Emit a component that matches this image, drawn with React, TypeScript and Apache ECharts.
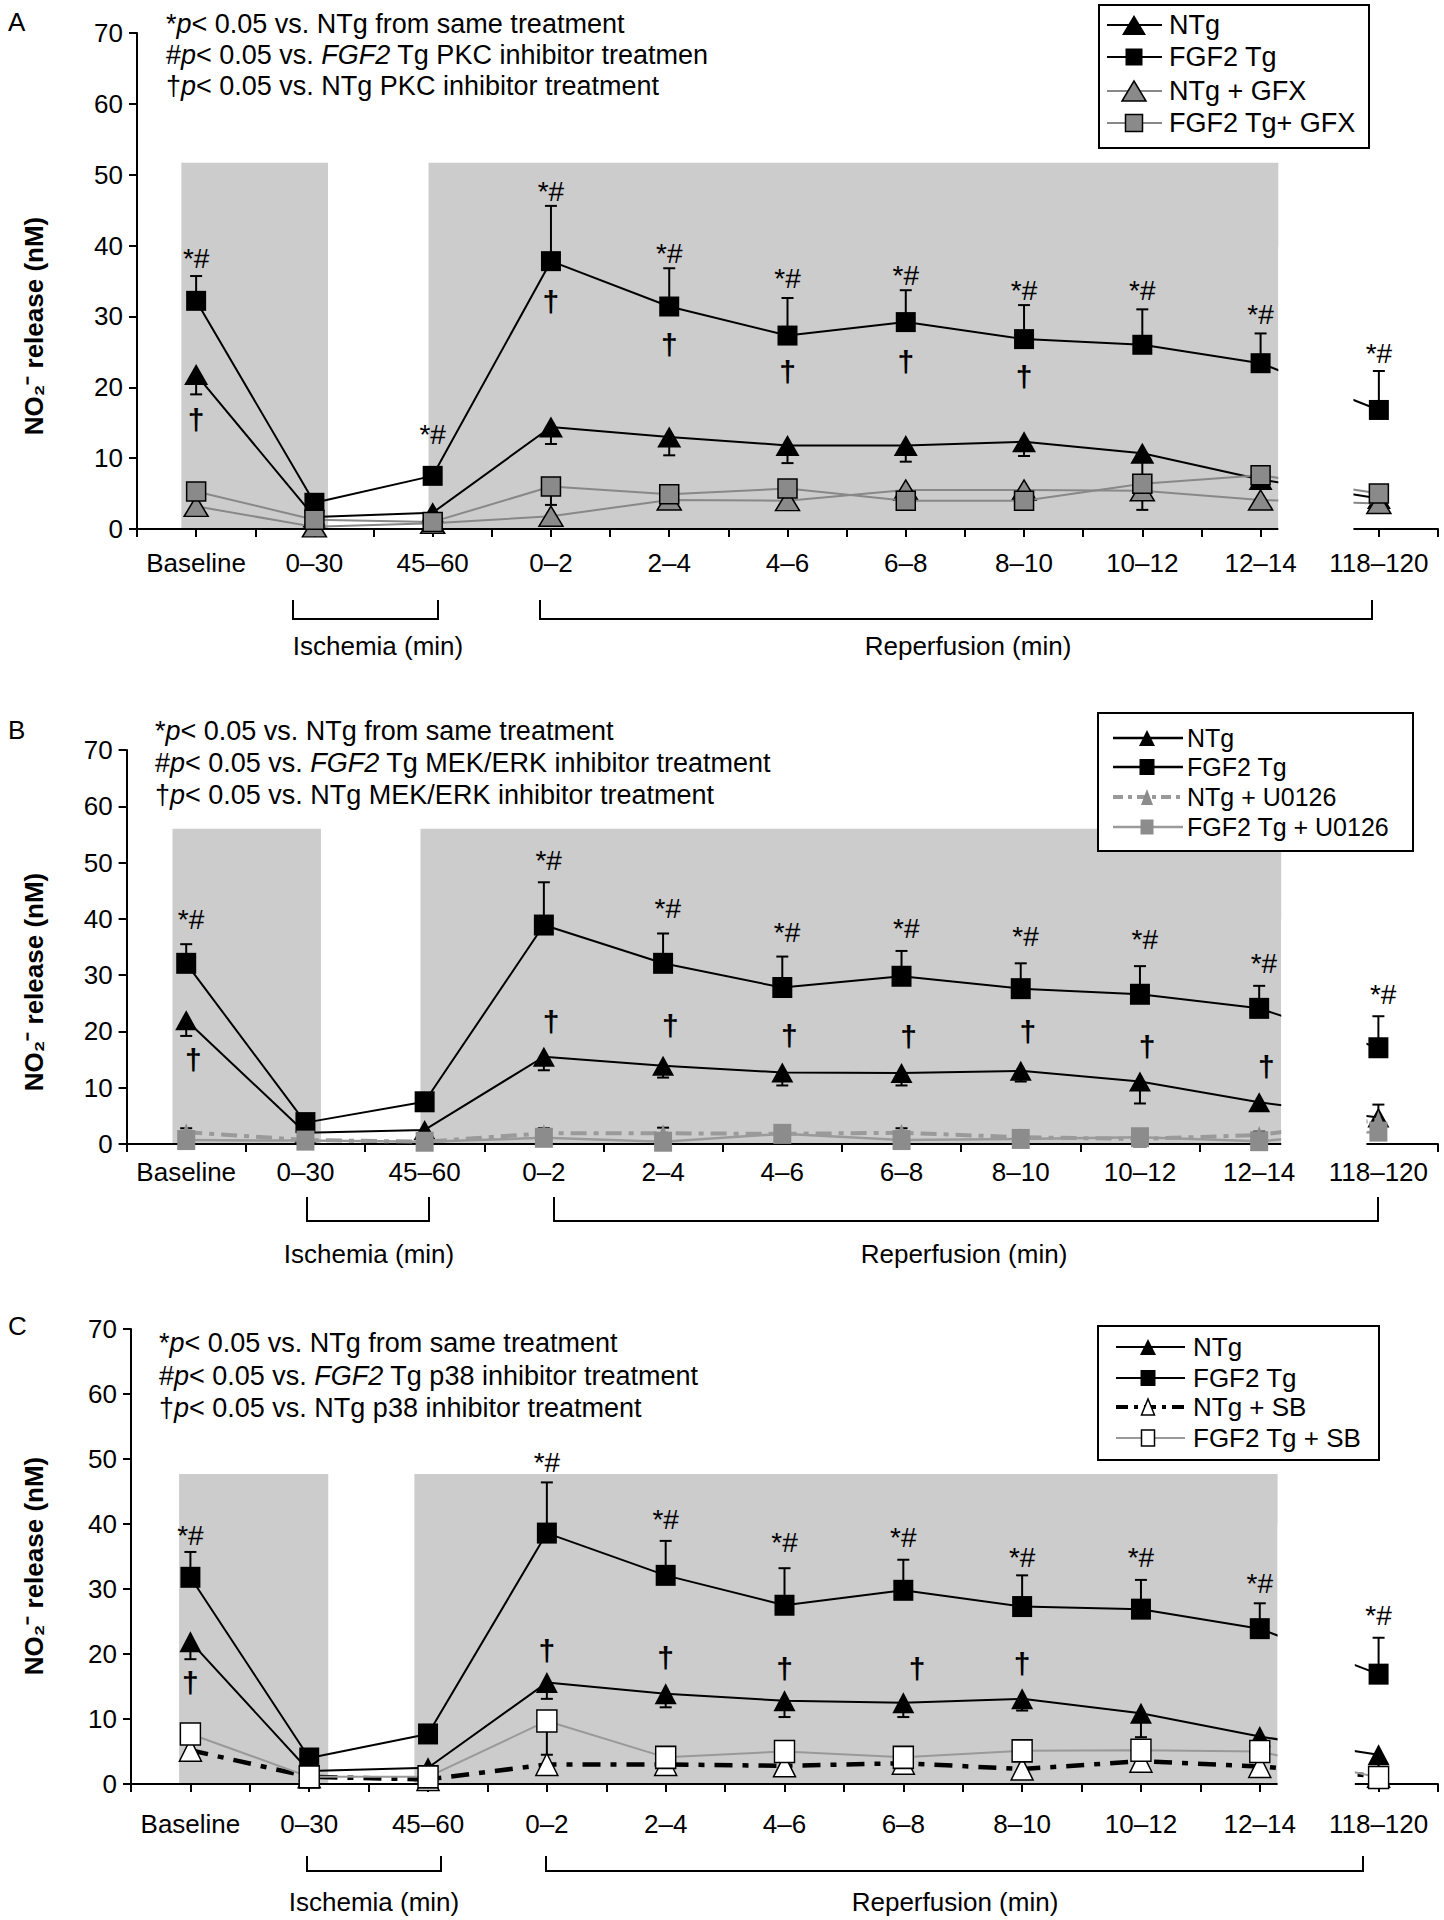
import React, { useEffect, useRef } from 'react';
import * as echarts from 'echarts';

const FONT = '"Liberation Sans", Arial, Helvetica, sans-serif';

const categories = ['Baseline', '0–30', '45–60', '0–2', '2–4', '4–6', '6–8', '8–10', '10–12', '12–14', '118–120'];
const yTickValues = [0, 10, 20, 30, 40, 50, 60, 70];

// ---------- Panel A (PKC inhibitor, GFX) ----------
const ntgA = [21.8, 1.7, 2.3, 14.4, 13.0, 11.8, 11.8, 12.3, 10.7, 7.0, 4.3];
const fgf2A = [32.2, 3.7, 7.5, 37.8, 31.4, 27.3, 29.2, 26.8, 26.0, 23.4, 16.8];
const ntgGfxA = [3.2, 0.3, 0.8, 1.8, 4.1, 4.0, 5.5, 5.5, 5.4, 4.1, 3.6];
const fgf2GfxA = [5.3, 1.3, 1.0, 6.0, 4.9, 5.7, 4.0, 4.0, 6.4, 7.6, 5.0];
const fgf2ErrTopA = [35.7, null, null, 45.6, 36.8, 32.6, 33.7, 31.6, 31.0, 27.6, 22.3];
const ntgErrBottomA = [19.0, null, null, 12.0, 10.4, 9.3, 9.5, 10.3, 2.7, null, null];
const fgf2GfxErrBottomA = [null, null, null, 3.4, null, null, null, null, null, null, null];
const starHashA = [38.2, null, 13.3, 47.6, 38.9, 35.4, 35.8, 33.7, 33.7, 30.3, 24.8];
const daggerA = [15.4, null, null, 32.1, 26.0, 22.2, 23.6, 21.5, null, null, null];
const shadeA = [[0.75, 3.23, 51.7], [4.93, 19.3, 51.7]];
const breakA = [19.3, 20.57];
const notesA = [
  '*{i|p}< 0.05 vs. NTg from same treatment',
  '#{i|p}< 0.05 vs. {i|FGF2} Tg PKC inhibitor treatmen',
  '†{i|p}< 0.05 vs. NTg PKC inhibitor treatment',
];
const legendNamesA = ['NTg', 'FGF2 Tg', 'NTg + GFX', 'FGF2 Tg+ GFX'];

// ---------- Panel B (MEK/ERK inhibitor, U0126) ----------
const ntgB = [22.0, 2.0, 2.5, 15.5, 13.9, 12.7, 12.6, 13.0, 11.1, 7.4, 4.7];
const fgf2B = [32.1, 3.8, 7.5, 38.9, 32.1, 27.8, 29.8, 27.6, 26.6, 24.1, 17.1];
const ntgU0126B = [2.1, 0.7, 0.4, 1.9, 1.9, 1.8, 2.0, 1.2, 0.9, 1.6, 4.3];
const fgf2U0126B = [0.7, 0.6, 0.4, 1.1, 0.4, 1.8, 0.7, 0.9, 1.2, 0.5, 2.2];
const fgf2ErrTopB = [35.5, null, null, 46.5, 37.4, 33.3, 34.3, 32.1, 31.6, 28.1, 22.7];
const ntgErrBottomB = [19.2, null, null, 13.1, 11.8, 10.4, 10.4, 11.1, 7.2, null, null];
const ntgU0126ErrTopB = [2.8, null, null, 2.8, 2.9, null, 2.8, null, null, 2.2, 7.0];
const starHashB = [39.8, null, null, 50.4, 41.9, 37.5, 38.2, 36.8, 36.4, 32.1, 26.5];
const daggerB = [15.1, null, null, 21.7, 21.0, 19.2, 19.1, 20.0, 17.3, 13.7, null];
const shadeB = [[0.77, 3.26, 56], [4.93, 19.37, 56]];
const breakB = [19.37, 20.8];
const notesB = [
  '*{i|p}< 0.05 vs. NTg from same treatment',
  '#{i|p}< 0.05 vs. {i|FGF2} Tg MEK/ERK inhibitor treatment',
  '†{i|p}< 0.05 vs. NTg MEK/ERK inhibitor treatment',
];
const legendNamesB = ['NTg', 'FGF2 Tg', 'NTg + U0126', 'FGF2 Tg + U0126'];

// ---------- Panel C (p38 inhibitor, SB) ----------
const ntgC = [21.9, 2.0, 2.5, 15.6, 13.9, 12.8, 12.5, 13.1, 10.9, 7.3, 4.5];
const fgf2C = [31.8, 4.0, 7.7, 38.6, 32.1, 27.5, 29.8, 27.3, 26.9, 23.9, 16.9];
const ntgSbC = [5.2, 1.1, 0.7, 3.0, 3.0, 2.8, 3.2, 2.3, 3.5, 2.7, 1.2];
const fgf2SbC = [7.7, 1.1, 1.1, 9.7, 4.1, 5.0, 4.1, 5.1, 5.2, 5.0, 1.0];
const fgf2ErrTopC = [35.7, null, null, 46.4, 37.4, 33.2, 34.5, 32.1, 31.4, 27.8, 22.5];
const ntgErrBottomC = [19.2, null, null, 13.1, 11.8, 10.3, 10.3, 11.3, 7.2, null, null];
const fgf2SbErrBottomC = [null, null, null, 4.5, null, null, null, null, null, null, null];
const starHashC = [38.2, null, null, 49.4, 40.7, 37.2, 38.0, 34.9, 34.9, 30.8, 26.0];
const daggerC = [15.6, null, null, 20.6, 19.4, 17.8, 17.7, 18.6, null, null, null];
const daggerShiftC = [0, 0, 0, 0, 0, 0, 0.23, 0, 0, 0, 0];
const shadeC = [[0.81, 3.32, 47.7], [4.77, 19.3, 47.7]];
const breakC = [19.3, 20.6];
const notesC = [
  '*{i|p}< 0.05 vs. NTg from same treatment',
  '#{i|p}< 0.05 vs. {i|FGF2} Tg p38 inhibitor treatment',
  '†{i|p}< 0.05 vs. NTg p38 inhibitor treatment',
];
const legendNamesC = ['NTg', 'FGF2 Tg', 'NTg + SB', 'FGF2 Tg + SB'];

const xOf = (i: number) => 1 + 2 * i;

type Sty = {
  line: string; width: number; dash?: number[]; symbol: string; size: number[];
  fill: string; border?: string; z: number;
};

const BLACK_TRI: Sty = { line: '#000', width: 2, symbol: 'triangle', size: [24, 21], fill: '#000', z: 4 };
const BLACK_SQ: Sty = { line: '#000', width: 2, symbol: 'rect', size: [20, 20], fill: '#000', z: 5 };

function errBars(base: number[], ends: (number | null)[]) {
  const out: number[][] = [];
  ends.forEach((e, i) => { if (e != null) out.push([xOf(i), base[i], e]); });
  return out;
}

function annots(ys: (number | null)[], text: string, shift: number | number[], fontSize: number, bold: boolean) {
  const out: any[] = [];
  ys.forEach((y, i) => {
    if (y == null) return;
    const dx = Array.isArray(shift) ? shift[i] : shift;
    out.push({ value: [xOf(i) + dx, y], name: text, label: { fontSize, fontWeight: bold ? 'bold' : 'normal' } });
  });
  return out;
}

const panels = [
  {
    letter: 'A', letterY: 22,
    grid: [137, 33, 1301, 496], tickInterval: 1, labelMargin: 21,
    shade: shadeA, brk: breakA,
    lines: [
      { name: legendNamesA[0], data: ntgA, sty: BLACK_TRI },
      { name: legendNamesA[1], data: fgf2A, sty: BLACK_SQ },
      { name: legendNamesA[2], data: ntgGfxA, sty: { line: '#888', width: 2, symbol: 'triangle', size: [24, 20], fill: '#8a8a8a', border: '#000', z: 6 } },
      { name: legendNamesA[3], data: fgf2GfxA, sty: { line: '#888', width: 2, symbol: 'rect', size: [19, 19], fill: '#8a8a8a', border: '#000', z: 7 } },
    ],
    errors: [...errBars(fgf2A, fgf2ErrTopA), ...errBars(ntgA, ntgErrBottomA), ...errBars(fgf2GfxA, fgf2GfxErrBottomA)],
    annotations: [...annots(starHashA, '*#', 0, 28, false), ...annots(daggerA, '†', 0, 30, true)],
    notes: notesA, notesX: 166, notesY: [24, 55, 86],
    legend: {
      box: [1099, 5, 270, 143], ys: [25, 57, 91, 123], lineX: [1107, 1162], markX: 1134, textX: 1169, fontSize: 27,
      names: legendNamesA,
      items: [
        { line: '#000', width: 2, sym: 'tri', w: 24, h: 20, fill: '#000' },
        { line: '#000', width: 2, sym: 'sq', w: 17, h: 17, fill: '#000' },
        { line: '#888', width: 2, sym: 'tri', w: 24, h: 20, fill: '#8a8a8a', stroke: '#000' },
        { line: '#888', width: 2, sym: 'sq', w: 17, h: 17, fill: '#8a8a8a', stroke: '#000' },
      ],
    },
    brackets: { top: 600, bottom: 619, isch: [293, 438], rep: [540, 1372], labelY: 646, ischX: 378, repX: 968 },
    yNameY: 326,
  },
  {
    letter: 'B', letterY: 730,
    grid: [126.6, 750, 1311.4, 394], tickInterval: 2, labelMargin: 15,
    shade: shadeB, brk: breakB,
    lines: [
      { name: legendNamesB[0], data: ntgB, sty: { ...BLACK_TRI, size: [22, 20] } },
      { name: legendNamesB[1], data: fgf2B, sty: { ...BLACK_SQ, size: [20, 21] } },
      { name: legendNamesB[2], data: ntgU0126B, sty: { line: '#9a9a9a', width: 4, dash: [16, 7, 5, 7], symbol: 'triangle', size: [14, 18], fill: '#8c8c8c', z: 6 } },
      { name: legendNamesB[3], data: fgf2U0126B, sty: { line: '#9a9a9a', width: 2.5, symbol: 'rect', size: [18, 20], fill: '#8c8c8c', z: 7 } },
    ],
    errors: [...errBars(fgf2B, fgf2ErrTopB), ...errBars(ntgB, ntgErrBottomB), ...errBars(ntgU0126B, ntgU0126ErrTopB)],
    annotations: [...annots(starHashB, '*#', 0.08, 28, false), ...annots(daggerB, '†', 0.12, 30, true)],
    notes: notesB, notesX: 155, notesY: [731, 763, 795],
    legend: {
      box: [1098, 713, 315, 138], ys: [738, 767, 797, 827], lineX: [1113, 1183], markX: 1147, textX: 1187, fontSize: 25,
      names: legendNamesB,
      items: [
        { line: '#000', width: 2.5, sym: 'tri', w: 16, h: 16, fill: '#000' },
        { line: '#000', width: 2.5, sym: 'sq', w: 15, h: 16, fill: '#000' },
        { line: '#9a9a9a', width: 4, dash: [10, 5, 4, 5], sym: 'tri', w: 12, h: 16, fill: '#8c8c8c' },
        { line: '#9a9a9a', width: 2.5, sym: 'sq', w: 13, h: 15, fill: '#8c8c8c' },
      ],
    },
    brackets: { top: 1197, bottom: 1221, isch: [307, 429], rep: [554, 1378], labelY: 1254, ischX: 369, repX: 964 },
    yNameY: 982,
  },
  {
    letter: 'C', letterY: 1326,
    grid: [131, 1329, 1307, 455], tickInterval: 1, labelMargin: 27,
    shade: shadeC, brk: breakC,
    lines: [
      { name: legendNamesC[0], data: ntgC, sty: { ...BLACK_TRI, size: [22, 21] } },
      { name: legendNamesC[1], data: fgf2C, sty: { ...BLACK_SQ, size: [20, 21] } },
      { name: legendNamesC[2], data: ntgSbC, sty: { line: '#000', width: 4.5, dash: [18, 10, 6, 10], symbol: 'triangle', size: [22, 22], fill: '#fff', border: '#000', z: 6 } },
      { name: legendNamesC[3], data: fgf2SbC, sty: { line: '#999', width: 2, symbol: 'rect', size: [20, 22], fill: '#fff', border: '#000', z: 7 } },
    ],
    errors: [...errBars(fgf2C, fgf2ErrTopC), ...errBars(ntgC, ntgErrBottomC), ...errBars(fgf2SbC, fgf2SbErrBottomC)],
    annotations: [...annots(starHashC, '*#', 0, 28, false), ...annots(daggerC, '†', daggerShiftC, 30, true)],
    notes: notesC, notesX: 159, notesY: [1343, 1376, 1408],
    legend: {
      box: [1098, 1326, 281, 134], ys: [1347, 1378, 1407, 1438], lineX: [1116, 1185], markX: 1148, textX: 1193, fontSize: 26,
      names: legendNamesC,
      items: [
        { line: '#000', width: 2, sym: 'tri', w: 16, h: 16, fill: '#000' },
        { line: '#000', width: 2, sym: 'sq', w: 15, h: 16, fill: '#000' },
        { line: '#000', width: 4, dash: [12, 6, 4, 6], sym: 'tri', w: 13, h: 16, fill: '#fff', stroke: '#000' },
        { line: '#999', width: 2, sym: 'sq', w: 13, h: 16, fill: '#fff', stroke: '#000' },
      ],
    },
    brackets: { top: 1856, bottom: 1871, isch: [307, 441], rep: [546, 1363], labelY: 1902, ischX: 374, repX: 955 },
    yNameY: 1566,
  },
];

function buildOption() {
  const grid: any[] = [];
  const xAxis: any[] = [];
  const yAxis: any[] = [];
  const series: any[] = [];
  const graphic: any[] = [];

  panels.forEach((p: any, gi: number) => {
    const [left, top, width, height] = p.grid;
    grid.push({ left, top, width, height, containLabel: false, outerBoundsMode: 'none' });
    const xTick = 2 * gi;
    xAxis.push({
      gridIndex: gi, type: 'value', position: 'bottom', min: 0, max: 22, interval: p.tickInterval, z: 2,
      axisLine: { show: true, onZero: false, lineStyle: { color: '#000', width: 2 } },
      axisTick: { show: true, inside: false, length: 8, lineStyle: { color: '#000', width: 2 } },
      axisLabel: { show: false }, splitLine: { show: false },
    });
    xAxis.push({
      gridIndex: gi, type: 'value', position: 'bottom', min: 0, max: 22, interval: 1, z: 2,
      axisLine: { show: false }, axisTick: { show: false }, splitLine: { show: false },
      axisLabel: {
        show: true, margin: p.labelMargin, fontSize: 26, fontFamily: FONT, color: '#000',
        formatter: (v: number) => {
          const k = Math.round(v);
          if (k % 2 === 0) return '';
          const i = (k - 1) / 2;
          return categories[i] ?? '';
        },
      },
    });
    yAxis.push({
      gridIndex: gi, type: 'value', min: yTickValues[0], max: yTickValues[yTickValues.length - 1], interval: 10, z: 2,
      axisLine: { show: true, lineStyle: { color: '#000', width: 2 } },
      axisTick: { show: true, inside: false, length: 8, lineStyle: { color: '#000', width: 2 } },
      axisLabel: { fontSize: 26, fontFamily: FONT, color: '#000', margin: 14 },
      splitLine: { show: false },
    });

    // shaded periods
    series.push({
      type: 'custom', xAxisIndex: xTick, yAxisIndex: gi, z: 1, silent: true, clip: false,
      data: p.shade, encode: { x: [0, 1], y: 2 },
      renderItem: (_params: any, api: any) => {
        const a = api.coord([api.value(0), api.value(2)]);
        const b = api.coord([api.value(1), 0]);
        return { type: 'rect', shape: { x: a[0], y: a[1], width: b[0] - a[0], height: b[1] - a[1] - 1 }, style: { fill: '#cccccc' } };
      },
    });

    // error bars
    series.push({
      type: 'custom', xAxisIndex: xTick, yAxisIndex: gi, z: 3, silent: true, clip: false,
      data: p.errors, encode: { x: 0, y: [1, 2] },
      renderItem: (_params: any, api: any) => {
        const a = api.coord([api.value(0), api.value(1)]);
        const b = api.coord([api.value(0), api.value(2)]);
        return {
          type: 'group',
          children: [
            { type: 'line', shape: { x1: a[0], y1: a[1], x2: b[0], y2: b[1] }, style: { stroke: '#000', lineWidth: 2 } },
            { type: 'line', shape: { x1: b[0] - 6, y1: b[1], x2: b[0] + 6, y2: b[1] }, style: { stroke: '#000', lineWidth: 2 } },
          ],
        };
      },
    });

    // data lines
    p.lines.forEach((l: any) => {
      const s: Sty = l.sty;
      series.push({
        type: 'line', name: l.name, xAxisIndex: xTick, yAxisIndex: gi, z: s.z, silent: true, clip: false,
        data: l.data.map((v: number, i: number) => [xOf(i), v]),
        symbol: s.symbol, symbolSize: s.size, showSymbol: true,
        itemStyle: { color: s.fill, borderColor: s.border ?? s.fill, borderWidth: s.border ? 1.5 : 0, opacity: 1 },
        lineStyle: { color: s.line, width: s.width, type: s.dash ?? 'solid' },
        emphasis: { disabled: true },
      });
    });

    // significance marks
    series.push({
      type: 'scatter', xAxisIndex: xTick, yAxisIndex: gi, z: 8, silent: true,
      symbol: 'circle', symbolSize: 1, itemStyle: { color: '#cccccc', opacity: 0 },
      data: p.annotations,
      label: {
        show: true, position: 'inside', formatter: '{b}', fontSize: 28, fontFamily: FONT, color: '#000',
        opacity: 1, textBorderWidth: 0, textBorderColor: 'transparent', textShadowBlur: 0,
      },
      emphasis: { disabled: true },
    });

    // axis break
    series.push({
      type: 'custom', xAxisIndex: xTick, yAxisIndex: gi, z: 10, silent: true, clip: false,
      data: [[p.brk[0], p.brk[1], 40]], encode: { x: [0, 1], y: 2 },
      renderItem: (_params: any, api: any) => {
        const a = api.coord([api.value(0), api.value(2)]);
        const b = api.coord([api.value(1), 0]);
        return { type: 'rect', shape: { x: a[0], y: a[1], width: b[0] - a[0], height: b[1] - a[1] + 14 }, style: { fill: '#fff' } };
      },
    });

    // panel letter
    graphic.push({ type: 'text', x: 8, y: p.letterY, z: 20, silent: true,
      style: { text: p.letter, fill: '#000', fontSize: 26, fontFamily: FONT, align: 'left', verticalAlign: 'middle' } });

    // y axis name
    graphic.push({ type: 'text', x: 34, y: p.yNameY, rotation: Math.PI / 2, z: 20, silent: true,
      style: { text: 'NO\u2082\u207B release (nM)', fill: '#000', fontSize: 26, fontWeight: 'bold', fontFamily: FONT, align: 'center', verticalAlign: 'middle' } });

    // significance notes
    p.notes.forEach((t: string, k: number) => {
      graphic.push({ type: 'text', x: p.notesX, y: p.notesY[k], z: 20, silent: true,
        style: { text: t, fill: '#000', fontSize: 27, fontFamily: FONT, align: 'left', verticalAlign: 'middle',
          rich: { i: { fontStyle: 'italic', fontSize: 27, fontFamily: FONT, fill: '#000' } } } });
    });

    // legend
    const lg = p.legend;
    graphic.push({ type: 'rect', z: 20, silent: true, shape: { x: lg.box[0], y: lg.box[1], width: lg.box[2], height: lg.box[3] },
      style: { fill: '#fff', stroke: '#000', lineWidth: 2 } });
    lg.items.forEach((it: any, k: number) => {
      const y = lg.ys[k];
      graphic.push({ type: 'line', z: 21, silent: true, shape: { x1: lg.lineX[0], y1: y, x2: lg.lineX[1], y2: y },
        style: { stroke: it.line, lineWidth: it.width, lineDash: it.dash ?? null } });
      const cx = lg.markX;
      const symStyle = { fill: it.fill, stroke: it.stroke ?? null, lineWidth: it.stroke ? 1.5 : 0 };
      if (it.sym === 'tri') {
        graphic.push({ type: 'polygon', z: 22, silent: true,
          shape: { points: [[cx, y - it.h / 2], [cx + it.w / 2, y + it.h / 2], [cx - it.w / 2, y + it.h / 2]] }, style: symStyle });
      } else {
        graphic.push({ type: 'rect', z: 22, silent: true,
          shape: { x: cx - it.w / 2, y: y - it.h / 2, width: it.w, height: it.h }, style: symStyle });
      }
      graphic.push({ type: 'text', x: lg.textX, y, z: 22, silent: true,
        style: { text: lg.names[k], fill: '#000', fontSize: lg.fontSize, fontFamily: FONT, align: 'left', verticalAlign: 'middle' } });
    });

    // brackets
    const br = p.brackets;
    [br.isch, br.rep].forEach((r: number[]) => {
      graphic.push({ type: 'polyline', z: 20, silent: true,
        shape: { points: [[r[0], br.top], [r[0], br.bottom], [r[1], br.bottom], [r[1], br.top]] },
        style: { stroke: '#000', lineWidth: 2, fill: null } });
    });
    graphic.push({ type: 'text', x: br.ischX, y: br.labelY, z: 20, silent: true,
      style: { text: 'Ischemia (min)', fill: '#000', fontSize: 26, fontFamily: FONT, align: 'center', verticalAlign: 'middle' } });
    graphic.push({ type: 'text', x: br.repX, y: br.labelY, z: 20, silent: true,
      style: { text: 'Reperfusion (min)', fill: '#000', fontSize: 26, fontFamily: FONT, align: 'center', verticalAlign: 'middle' } });
  });

  return {
    animation: false,
    backgroundColor: '#fff',
    textStyle: { fontFamily: FONT },
    grid, xAxis, yAxis, series, graphic,
  };
}

export default function App() {
  const ref = useRef<HTMLDivElement>(null);
  useEffect(() => {
    if (!ref.current) return;
    const chart = echarts.init(ref.current, null, { renderer: 'svg' });
    chart.setOption(buildOption() as any);
    return () => chart.dispose();
  }, []);
  return <div ref={ref} style={{ position: 'absolute', left: 0, top: 0, width: 1444, height: 1920 }} />;
}
